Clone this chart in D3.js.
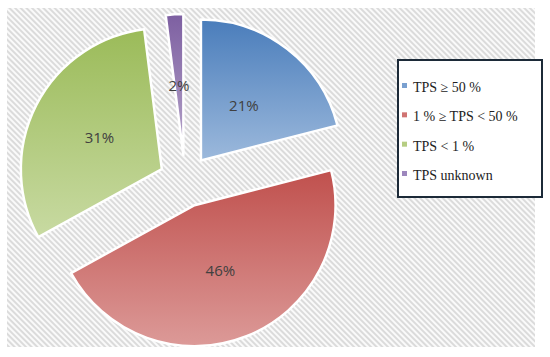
<!DOCTYPE html>
<html>
<head>
<meta charset="utf-8">
<script src="https://cdn.jsdelivr.net/npm/d3@7/dist/d3.min.js"></script>
<style>
    body { margin: 0; background: #fff; }
    svg { display: block; }
</style>
</head>
<body>
<svg id="chart" width="550" height="357"></svg>
<script>
var categories = ["TPS \u2265 50 %", "1 % \u2265 TPS < 50 %", "TPS < 1 %", "TPS unknown"];
var values = [21, 46, 31, 2];
var labels = ["21%", "46%", "31%", "2%"];

var topColors = ["#4a7dbb", "#c0504d", "#9bbb59", "#7d5fa1"];
var bottomColors = ["#9cb9dc", "#dc9a98", "#c8daa2", "#b6a5ca"];
var legendColors = ["#7aa0d0", "#d07472", "#b6cd82", "#9d87bd"];

var svg = d3.select("#chart");
var defs = svg.append("defs");

// hatch background
var pattern = defs.append("pattern")
    .attr("id", "hatch")
    .attr("width", 4)
    .attr("height", 4)
    .attr("patternUnits", "userSpaceOnUse")
    .attr("patternTransform", "rotate(-45)");
pattern.append("rect")
    .attr("width", 4).attr("height", 4).attr("fill", "#fafafa");
pattern.append("line")
    .attr("x1", 1).attr("y1", 0).attr("x2", 1).attr("y2", 4)
    .style("stroke", "#d8d8d8")
    .style("stroke-width", 1.8);

svg.append("rect")
    .attr("x", 7).attr("y", 8)
    .attr("width", 528).attr("height", 339)
    .attr("fill", "url(#hatch)");

// gradients
values.forEach(function(v, i) {
    var g = defs.append("linearGradient")
        .attr("id", "grad" + i)
        .attr("x1", 0).attr("y1", 0).attr("x2", 0).attr("y2", 1);
    g.append("stop").attr("offset", "0%").attr("stop-color", topColors[i]);
    g.append("stop").attr("offset", "100%").attr("stop-color", bottomColors[i]);
});

var cx = 185, cy = 181;
var radius = 141;
var explode = 26;

var pie = d3.pie().sort(null).value(function(d) { return d; });
var arcs = pie(values);

var arc = d3.arc().innerRadius(0).outerRadius(radius);
var labelArc = d3.arc().innerRadius(140).outerRadius(0);

var pieG = svg.append("g")
    .attr("transform", "translate(" + cx + "," + cy + ")");

var slice = pieG.selectAll("g.slice")
    .data(arcs)
    .enter()
    .append("g")
    .attr("class", "slice")
    .attr("transform", function(d) {
        var mid = (d.startAngle + d.endAngle) / 2;
        return "translate(" + (explode * Math.sin(mid)) + "," + (-explode * Math.cos(mid)) + ")";
    });

slice.append("path")
    .attr("d", arc)
    .attr("fill", function(d, i) { return "url(#grad" + i + ")"; })
    .style("stroke", "#fff")
    .style("stroke-width", 2.5)
    .style("stroke-linejoin", "round");

slice.append("text")
    .attr("transform", function(d) { return "translate(" + labelArc.centroid(d) + ")"; })
    .attr("text-anchor", "middle")
    .attr("dy", "0.4em")
    .style("font-family", "'Open Sans', sans-serif")
    .style("font-size", "15px")
    .style("fill", "#404040")
    .text(function(d, i) { return labels[i]; });

// legend
var legend = svg.append("g");
legend.append("rect")
    .attr("x", 398).attr("y", 60)
    .attr("width", 144).attr("height", 137)
    .attr("fill", "#fff")
    .style("stroke", "#1c2a38")
    .style("stroke-width", 2);

var rowY = d3.scalePoint()
    .domain(categories)
    .range([87, 175]);

var item = legend.selectAll("g.item")
    .data(categories)
    .enter()
    .append("g")
    .attr("class", "item")
    .attr("transform", function(d) { return "translate(0," + rowY(d) + ")"; });

item.append("rect")
    .attr("x", 402).attr("y", -4)
    .attr("width", 5).attr("height", 5)
    .attr("fill", function(d, i) { return legendColors[i]; });

item.append("text")
    .attr("x", 413)
    .attr("dy", "0.35em")
    .style("font-family", "'Liberation Serif', serif")
    .style("font-size", "14px")
    .style("fill", "#222")
    .text(function(d) { return d; });
</script>
</body>
</html>
